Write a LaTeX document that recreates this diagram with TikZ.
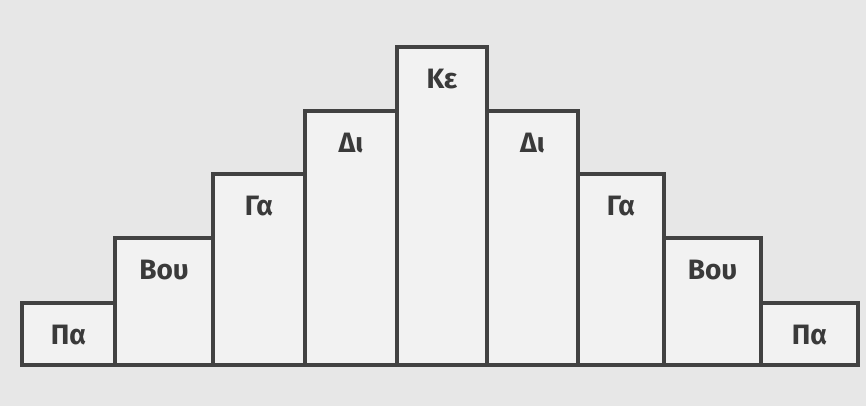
\documentclass[tikz,border=0pt]{standalone}
\usepackage{fontspec}
\setmainfont{Fira Sans}
\definecolor{bggray}{HTML}{E7E7E7}
\definecolor{barfill}{HTML}{F2F2F2}
\definecolor{linegray}{HTML}{424242}
\definecolor{textgray}{HTML}{3A3A3A}

\begin{document}
\begin{tikzpicture}[x=1pt,y=-1pt,
    bar/.style={draw=linegray, fill=barfill, line width=3.5pt},
    lbl/.style={text=textgray, font=\bfseries\fontsize{28}{30}\selectfont}]
                \useasboundingbox (0,0) rectangle (866,406);
                \fill[bggray] (0,0) rectangle (866,406);
                \foreach \l/\r/\t/\name/\txt in {22/115/303/paL/Πα, 115/213/238/bouL/Βου, 213/305/174/gaL/Γα,
                        305/397/111/diL/Δι, 397/487/47/ke/Κε, 487/578/111/diR/Δι,
                        578/664/174/gaR/Γα, 664/761/238/bouR/Βου, 761/858/303/paR/Πα}
                {
                    \draw[bar] (\l,365) rectangle (\r,\t);
                    \node[lbl] (\name) at ({(\l+\r)/2},\t+32) {\txt};
                }
            \end{tikzpicture}
\end{document}
